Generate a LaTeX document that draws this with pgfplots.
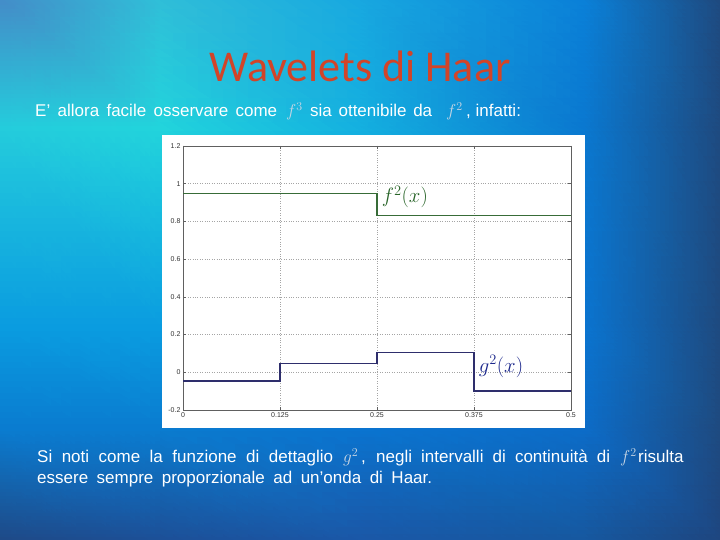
\documentclass[border=0pt]{standalone}
\usepackage{pgfplots}
\pgfplotsset{compat=1.18}
\usepackage{fontspec}
\setmainfont{Liberation Sans}
\newfontfamily\carlito{Carlito}
\definecolor{titlecol}{RGB}{210,68,40}
\definecolor{mathcol}{RGB}{200,214,228}
\definecolor{fcol}{RGB}{56,108,56}
\definecolor{gcol}{RGB}{46,46,108}
\definecolor{fann}{RGB}{40,100,40}
\definecolor{gann}{RGB}{28,40,140}
\definecolor{axcol}{RGB}{96,96,96}
\definecolor{gridcol}{RGB}{165,165,165}
\definecolor{tickcol}{RGB}{50,50,50}

\pgfplotstableread{
x y z c
0 540 0 rgb255=68,140,200
160 540 0 rgb255=48,190,216
360 540 0 rgb255=24,168,224
585 540 0 rgb255=10,128,216
720 540 0 rgb255=30,74,128

0 410 0 rgb255=36,204,220
160 410 0 rgb255=34,212,220
360 410 0 rgb255=20,176,224
585 410 0 rgb255=10,120,208
720 410 0 rgb255=30,74,128

0 210 0 rgb255=10,156,224
160 210 0 rgb255=10,156,224
360 210 0 rgb255=10,140,224
585 210 0 rgb255=10,116,208
720 210 0 rgb255=30,74,128

0 110 0 rgb255=10,124,208
160 110 0 rgb255=10,124,208
360 110 0 rgb255=10,116,208
585 110 0 rgb255=12,108,200
720 110 0 rgb255=30,74,128

0 0 0 rgb255=30,74,136
160 0 0 rgb255=28,80,152
360 0 0 rgb255=26,88,168
585 0 0 rgb255=22,88,160
720 0 0 rgb255=30,70,128
}\bgtable

\begin{document}
\begin{tikzpicture}[x=1pt,y=1pt]
\useasboundingbox (0,0) rectangle (720,540);
\begin{scope}
\clip (0,0) rectangle (720,540);
% background gradient
\begin{axis}[at={(0pt,0pt)}, anchor=south west, scale only axis,
  width=720pt, height=540pt, hide axis, view={0}{90},
  xmin=0, xmax=720, ymin=0, ymax=540, zmin=-1, zmax=1]
\addplot3[surf, shader=interp, mesh/color input=explicit, mesh/cols=5]
  table[x=x, y=y, z=z, meta=c] {\bgtable};
\end{axis}

% title and texts
\node[anchor=base, inner sep=0, text=titlecol, font=\carlito\fontsize{44}{50}\selectfont] at (360,458) {Wavelets di Haar};

\begin{scope}[every node/.style={anchor=base west, inner sep=0, text=white, font=\fontsize{17}{20}\selectfont}]
\node at (35,423) {\makebox[242pt][s]{E’ allora facile osservare come}};
\node[text=mathcol] at (286,423) {$f^{3}$};
\node at (310,423) {\makebox[122pt][s]{sia ottenibile da}};
\node[text=mathcol] at (446,423) {$f^{2}$};
\node at (466,423) {, infatti:};

\node at (37,77) {\makebox[296pt][s]{Si noti come la funzione di dettaglio}};
\node[text=mathcol] at (343,77) {$g^{2}$};
\node at (361,77) {\makebox[249pt][s]{, negli intervalli di continuità di}};
\node[text=mathcol] at (620,77) {$f^{2}$};
\node at (638,77) {risulta};
\node at (37,56) {\makebox[395pt][s]{essere sempre proporzionale ad un’onda di Haar.}};
\end{scope}

% white panel
\fill[white] (162,112) rectangle (585,405);

\begin{axis}[at={(183pt,130pt)}, anchor=south west, scale only axis,
  width=388pt, height=264pt,
  xmin=0, xmax=0.5, ymin=-0.2, ymax=1.2,
  xtick={0,0.125,0.25,0.375,0.5},
  xticklabels={0,0.125,0.25,0.375,0.5},
  ytick={-0.2,0,0.2,0.4,0.6,0.8,1,1.2},
  yticklabels={-0.2,0,0.2,0.4,0.6,0.8,1,1.2},
  grid=major, grid style={dotted, gridcol, line width=0.6pt},
  axis line style={axcol, line width=0.6pt},
  tick align=inside, major tick length=3pt,
  tick style={axcol, line width=0.5pt},
  ticklabel style={font=\fontsize{7}{8}\selectfont, text=tickcol},
  xticklabel style={yshift=1pt},
  yticklabel style={xshift=1pt},
  clip=false]
\addplot[const plot, fcol, line width=1.3pt] coordinates {
  (0,0.947) (0.25,0.832) (0.5,0.832)};
\addplot[const plot, gcol, line width=1.3pt] coordinates {
  (0,-0.047) (0.125,0.046) (0.25,0.105) (0.375,-0.100) (0.5,-0.100)};
\node[anchor=west, inner sep=0, text=fann, font=\fontsize{20}{22}\selectfont] at (axis cs:0.256,0.93) {$f^{2}\bigl(x\bigr)$};
\node[anchor=west, inner sep=0, text=gann, font=\fontsize{20}{22}\selectfont] at (axis cs:0.381,0.03) {$g^{2}\bigl(x\bigr)$};
\end{axis}
\end{scope}
\end{tikzpicture}
\end{document}
